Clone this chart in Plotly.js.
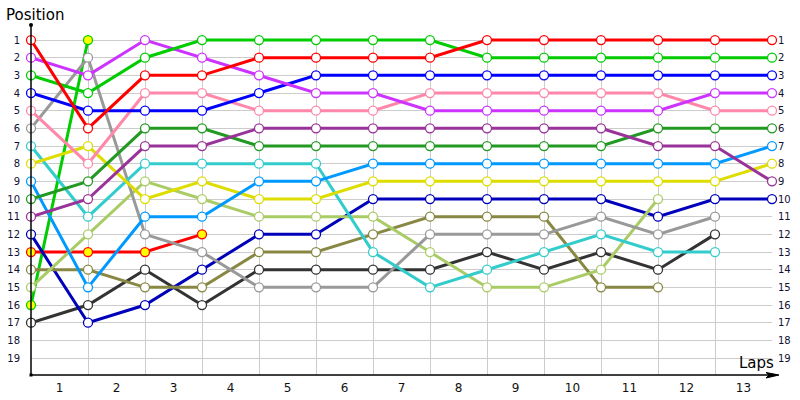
<!DOCTYPE html>
<html><head><meta charset="utf-8">
<script src="https://cdn.plot.ly/plotly-3.0.1.min.js"></script>
<style>html,body{margin:0;padding:0;background:#fff}#chart{width:800px;height:400px}</style>
</head><body><div id="chart"></div>
<script>
// lap index of each recorded point (0 = start grid)
const steps = [0,1,2,3,4,5,6,7,8,9,10,11,12,13];
const lapLabels = ['1','2','3','4','5','6','7','8','9','10','11','12','13'];
const lapLabelPos = [0.5,1.5,2.5,3.5,4.5,5.5,6.5,7.5,8.5,9.5,10.5,11.5,12.5];
const positions = [1,2,3,4,5,6,7,8,9,10,11,12,13,14,15,16,17,18,19];

// positions per driver, one value per step
const redCar      = [1,6,3,3,2,2,2,2,1,1,1,1,1,1];
const greenCar    = [3,4,2,1,1,1,1,1,2,2,2,2,2,2];
const blueCar     = [4,5,5,5,4,3,3,3,3,3,3,3,3,3];
const magentaCar  = [2,3,1,2,3,4,4,5,5,5,5,5,4,4];
const pinkCar     = [5,8,4,4,5,5,5,4,4,4,4,4,5,5];
const purpleCar   = [11,10,7,7,6,6,6,6,6,6,6,7,7,9];
const darkGreenCar= [10,9,6,6,7,7,7,7,7,7,7,6,6,6];
const skyBlueCar  = [9,15,11,11,9,9,8,8,8,8,8,8,8,7];
const yellowCar   = [8,7,10,9,10,10,9,9,9,9,9,9,9,8];
const cyanCar     = [7,11,8,8,8,8,13,15,14,13,12,13,13];
const greyCar     = [6,2,12,13,15,15,15,12,12,12,11,12,11];
const limeCar     = [15,12,9,10,11,11,11,13,15,15,14,10];
const oliveCar    = [14,14,15,15,13,13,12,11,11,11,15,15];
const charcoalCar = [17,16,14,16,14,14,14,14,13,14,13,14,12];
const navyCar     = [12,17,16,14,12,12,10,10,10,10,10,11,10,10];
const redYellowCar   = [13,13,13,12];
const greenYellowCar = [16,1];

const series = [
  {y: greenYellowCar, line:'#00cc00', fill:'#ffff00'},
  {y: redYellowCar,   line:'#ff0000', fill:'#ffff00'},
  {y: charcoalCar,    line:'#333333', fill:'#ffffff'},
  {y: navyCar,        line:'#0000bb', fill:'#ffffff'},
  {y: oliveCar,       line:'#888844', fill:'#ffffff'},
  {y: limeCar,        line:'#aacc66', fill:'#ffffff'},
  {y: greyCar,        line:'#999999', fill:'#ffffff'},
  {y: cyanCar,        line:'#33cccc', fill:'#ffffff'},
  {y: yellowCar,      line:'#dddd00', fill:'#ffffff'},
  {y: skyBlueCar,     line:'#0099ff', fill:'#ffffff'},
  {y: darkGreenCar,   line:'#229922', fill:'#ffffff'},
  {y: purpleCar,      line:'#993399', fill:'#ffffff'},
  {y: pinkCar,        line:'#ff88aa', fill:'#ffffff'},
  {y: blueCar,        line:'#0000ff', fill:'#ffffff'},
  {y: magentaCar,     line:'#cc33ff', fill:'#ffffff'},
  {y: greenCar,       line:'#00cc00', fill:'#ffffff'},
  {y: redCar,         line:'#ff0000', fill:'#ffffff'}
];

const traces = series.map(s => ({
  type:'scatter', mode:'lines+markers',
  x: steps.slice(0, s.y.length), y: s.y,
  line:{color:s.line, width:3},
  marker:{symbol:'circle', size:9, color:s.fill, line:{color:s.line, width:1.3}},
  cliponaxis:false, showlegend:false, hoverinfo:'skip'
}));
traces.push({type:'scatter', mode:'markers', x:[null], y:[null], xaxis:'x2', yaxis:'y2', showlegend:false, hoverinfo:'skip'});

const W = 800, H = 400, L = 31, R = 28, T = 35, B = 25;
const pw = W - L - R, ph = H - T - B;
const px = v => (v - L) / pw;
const py = v => (H - B - v) / ph;
const yRange = [19.96, 0.715];
const font = 'DejaVu Sans, Verdana, sans-serif';

const layout = {
  width: W, height: H,
  margin: {l:L, r:R, t:T, b:B, pad:0},
  paper_bgcolor:'#ffffff', plot_bgcolor:'#ffffff',
  font:{family:font, color:'#111111'},
  xaxis: {range:[0,13], tickvals:steps, showticklabels:false, showgrid:true, gridcolor:'#cccccc', gridwidth:1,
          zeroline:false, showline:false, ticks:'', fixedrange:true},
  xaxis2:{range:[0,13], overlaying:'x', anchor:'y', side:'bottom', tickvals:lapLabelPos, ticktext:lapLabels,
          showgrid:false, zeroline:false, showline:false, ticks:'', tickfont:{size:12, family:font, color:'#111111'},
          ticklabelstandoff:4},
  yaxis: {range:yRange, tickvals:positions, ticktext:positions.map(String), showgrid:true, gridcolor:'#cccccc', gridwidth:1,
          zeroline:false, showline:false, ticks:'', tickfont:{size:10, family:font, color:'#111133'}, ticklabelstandoff:10},
  yaxis2:{range:yRange, overlaying:'y', side:'right', anchor:'x', tickvals:positions, ticktext:positions.map(String),
          showgrid:false, zeroline:false, showline:false, ticks:'', tickfont:{size:10, family:font, color:'#111133'},
          ticklabelstandoff:5},
  shapes: [
    {type:'line', xref:'paper', yref:'paper', x0:0, x1:0, y0:0, y1:py(25), line:{color:'#000000', width:1.5}},
    {type:'line', xref:'paper', yref:'paper', x0:0, x1:px(776), y0:0, y1:0, line:{color:'#000000', width:1.5}},
    {type:'circle', xref:'paper', yref:'paper', xsizemode:'pixel', ysizemode:'pixel', xanchor:0, yanchor:py(25),
     x0:-2, x1:2, y0:-2, y1:2, fillcolor:'#000000', line:{width:0}},
    {type:'rect', xref:'paper', yref:'paper', xsizemode:'pixel', ysizemode:'pixel', xanchor:0, yanchor:0,
     x0:-1.5, x1:1.5, y0:-1.5, y1:1.5, fillcolor:'#000000', line:{width:0}},
    {type:'path', xref:'paper', yref:'paper', xsizemode:'pixel', ysizemode:'pixel', xanchor:px(779), yanchor:0,
     path:'M -13 2.5 L 0 0 L -13 -3 L -10 0 Z', fillcolor:'#000000', line:{color:'#000000', width:1}}
  ],
  annotations: [
    {text:'Position', xref:'paper', yref:'paper', x:px(4), y:py(15), xanchor:'left', yanchor:'middle',
     showarrow:false, font:{size:15, family:font, color:'#000000'}},
    {text:'Laps', xref:'paper', yref:'paper', x:px(776), y:py(363), xanchor:'right', yanchor:'middle',
     showarrow:false, font:{size:15, family:font, color:'#000000'}}
  ]
};

Plotly.newPlot('chart', traces, layout, {staticPlot:true, displayModeBar:false});
</script></body></html>
